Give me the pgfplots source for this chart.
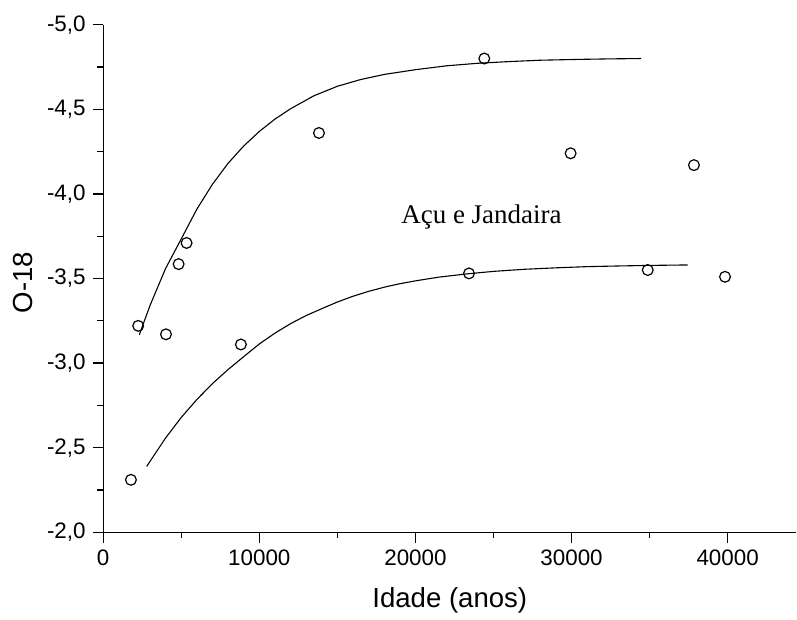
\documentclass[border=0pt]{standalone}
\usepackage{pgfplots}
\pgfplotsset{compat=1.18}
\usepackage{fontspec}
\setmainfont{Liberation Sans}
\newfontfamily\timesfont{Liberation Serif}
\begin{document}
\begin{tikzpicture}
\begin{axis}[
  scale only axis,
  width=346.85bp, height=254bp,
  xmin=0, xmax=44400,
  ymin=-5, ymax=-2,
  y dir=reverse,
  axis x line=bottom, axis y line=left,
  x axis line style={-}, y axis line style={-},
  axis line style={line width=0.65bp},
  tick align=outside,
  major tick length=5.3bp, minor tick length=3bp,
  every tick/.style={line width=0.65bp, black},
  scaled x ticks=false,
  xtick={0,10000,20000,30000,40000},
  xticklabels={0,10000,20000,30000,40000},
  minor x tick num=1,
  ytick={-5,-4.5,-4,-3.5,-3,-2.5,-2},
  yticklabels={{-5,0},{-4,5},{-4,0},{-3,5},{-3,0},{-2,5},{-2,0}},
  minor y tick num=1,
  tick label style={font=\fontsize{11.2bp}{13bp}\selectfont},
  xlabel={Idade (anos)}, ylabel={O-18},
  label style={font=\fontsize{13.8bp}{16bp}\selectfont},
  xlabel style={yshift=-4bp},
  ylabel style={yshift=0.5bp, xshift=-2bp},
  clip=false,
]
\addplot[only marks, mark=o, mark size=2.7bp, mark options={line width=0.6bp}] coordinates {
(1775,-2.31) (2240,-3.22) (4020,-3.17) (4830,-3.585) (5340,-3.71) (8820,-3.11)
(13820,-4.36) (23430,-3.53) (24410,-4.80) (29940,-4.24) (34880,-3.55) (37840,-4.17) (39830,-3.51)
};
\addplot[line width=0.55bp, black] coordinates {
(2310,-3.167) (3000,-3.341) (4000,-3.560) (5000,-3.734) (6000,-3.910) (7000,-4.057)
(8000,-4.181) (9000,-4.283) (10000,-4.369) (11000,-4.442) (12000,-4.503) (13500,-4.580)
(15000,-4.636) (16500,-4.676) (18000,-4.706) (20000,-4.734) (22000,-4.757) (24000,-4.772)
(26000,-4.782) (28000,-4.790) (30500,-4.795) (32500,-4.798) (34450,-4.800)
};
\addplot[line width=0.55bp, black] coordinates {
(2780,-2.389) (4000,-2.558) (5000,-2.679) (6000,-2.785) (7000,-2.879) (8000,-2.962)
(9000,-3.038) (10000,-3.113) (11000,-3.177) (12000,-3.233) (13000,-3.281) (14310,-3.334)
(15000,-3.361) (16000,-3.395) (17000,-3.424) (18150,-3.452) (19000,-3.469) (20000,-3.486)
(21500,-3.508) (23280,-3.527) (25000,-3.542) (27000,-3.5545) (29000,-3.563) (31000,-3.570)
(33000,-3.574) (35000,-3.5773) (37440,-3.580)
};
\node[anchor=base, font=\timesfont\fontsize{13.5bp}{16bp}\selectfont, inner sep=0pt] at (axis cs:24230,-3.827) {Açu e Jandaira};
\end{axis}
\useasboundingbox (-51.65bp,-38.65bp) rectangle (346.85bp,266.35bp);
\end{tikzpicture}
\end{document}
